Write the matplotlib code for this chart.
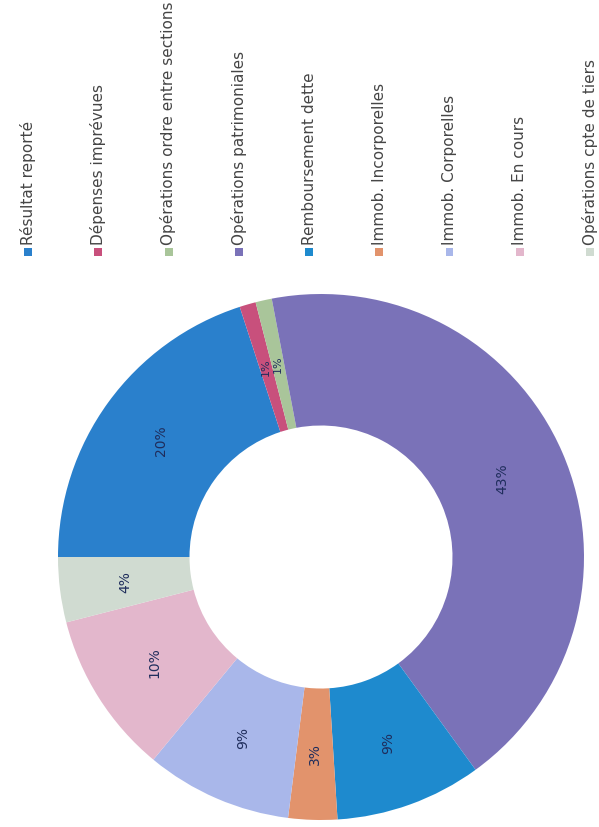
import matplotlib
matplotlib.use("Agg")

import matplotlib.pyplot as plt
from matplotlib.patches import Rectangle

# ── Data ──────────────────────────────────────────────────────────────
labels = [
    "Résultat reporté",
    "Dépenses imprévues",
    "Opérations ordre entre sections",
    "Opérations patrimoniales",
    "Remboursement dette",
    "Immob. Incorporelles",
    "Immob. Corporelles",
    "Immob. En cours",
    "Opérations cpte de tiers",
]
shares = [20, 1, 1, 43, 9, 3, 9, 10, 4]
colors = [
    "#2a80cc",  # résultat reporté
    "#c8507c",  # dépenses imprévues
    "#a9c59a",  # ordre entre sections
    "#7a72b8",  # patrimoniales
    "#1e8ace",  # remboursement dette
    "#e2936c",  # immob. incorporelles
    "#a9b7ea",  # immob. corporelles
    "#e3b7cc",  # immob. en cours
    "#d0dbd1",  # cpte de tiers
]

W, H = 599, 827
fig = plt.figure(figsize=(W / 100, H / 100), dpi=100)
fig.patch.set_facecolor("white")

# ── Donut (whole chart is turned a quarter turn, so start at 9 o'clock) ─
cx, cy, r = 321, 557, 263
ax = fig.add_axes([(cx - r) / W, (H - cy - r) / H, 2 * r / W, 2 * r / H])
wedges, texts, autotexts = ax.pie(
    shares,
    colors=colors,
    startangle=180,
    counterclock=False,
    radius=1,
    autopct="%.0f%%",
    pctdistance=0.75,
    wedgeprops=dict(width=0.5, edgecolor="none"),
    textprops=dict(color="#1f2d5c", fontsize=10),
)
for t, v in zip(autotexts, shares):
    t.set_rotation(90)
    if v < 2:
        t.set_fontsize(8)   # the two tiny slices share almost the same spot
ax.set_xlim(-1, 1)
ax.set_ylim(-1, 1)
ax.set_aspect("equal")
ax.axis("off")

# ── Legend laid out along the top, texts reading upward ──────────────
x0, step, sq_y, sq = 28, 70.25, 252, 8
for i, (lab, col) in enumerate(zip(labels, colors)):
    x = x0 + i * step
    fig.add_artist(Rectangle(
        ((x - sq / 2) / W, (H - sq_y - sq / 2) / H), sq / W, sq / H,
        transform=fig.transFigure, facecolor=col, edgecolor="none"
    ))
    fig.text(
        x / W, (H - sq_y + sq / 2 + 3) / H, lab,
        rotation=90, ha="center", va="bottom",
        fontsize=11, color="#454545", family="DejaVu Sans"
    )

fig.savefig("out.png", dpi=100, facecolor="white")
